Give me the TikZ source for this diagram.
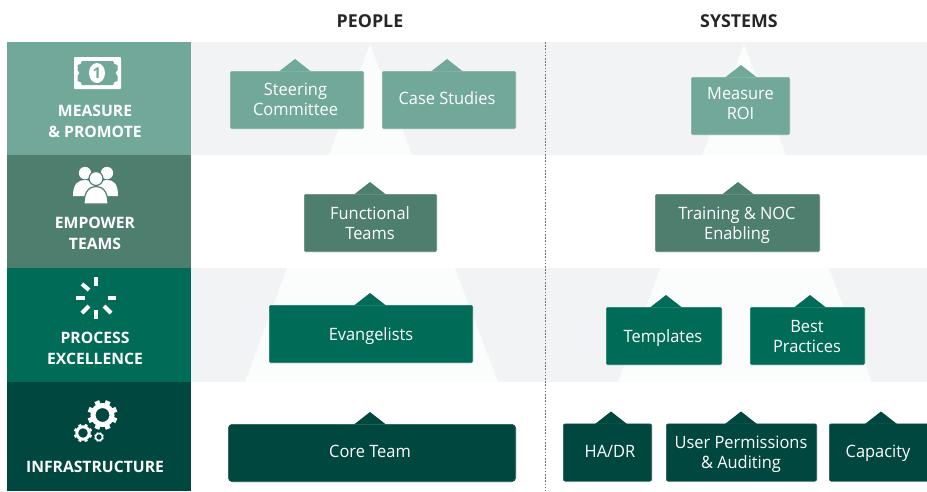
\documentclass[tikz,border=0pt]{standalone}
\usepackage{fontspec}
\setmainfont{Open Sans}
\newfontfamily\cardfont[FakeStretch=0.965]{Open Sans}
\usetikzlibrary{calc}
\definecolor{cA}{HTML}{72A899}
\definecolor{cB}{HTML}{4E7F6E}
\definecolor{cC}{HTML}{006B56}
\definecolor{cD}{HTML}{00473F}
\definecolor{band}{HTML}{F2F3F5}
\definecolor{pyr}{HTML}{FBFCFC}
\def\cardround{2pt}
\tikzset{
  bandrect/.style={fill=band,draw=none},
  catfill/.style={fill=#1,draw=none},
  cardbox/.style={fill=#1,draw=#1!88!white,line width=.6pt,rounded corners=\cardround,inner sep=0pt},
  cardtab/.style={fill=#1,draw=none},
  cardtext/.style={text=white,align=center,inner sep=0pt,font=\cardfont\fontsize{17}{20}\selectfont},
  catlabel/.style={text=white,align=center,inner sep=0pt,font=\bfseries\fontsize{15.7}{21}\selectfont},
  heading/.style={text=black!85,inner sep=0pt,font=\bfseries\fontsize{17.8}{20}\selectfont},
  tick/.style={white,line width=4pt},
}
% name, x1, y1, x2, y2, tab x, colour, text, text centre
\newcommand{\cardnode}[9]{
  \fill[cardtab=#7] (#6-16,#3+.5) -- (#6,#3-12) -- (#6+16,#3+.5) -- cycle;
  \node[cardbox=#7,minimum width=#4pt-#2pt-.6pt,minimum height=#5pt-#3pt-.6pt,anchor=north west] (#1) at (#2,#3) {};
  \node[cardtext] (#1t) at (#9) {#8};
}
% centre x, centre y, ring radius, ring width, teeth count, tooth length, tooth width
\newcommand{\gearicon}[7]{
  \draw[white,line width=#4pt] (#1,#2) circle (#3pt);
  \foreach \a in {1,...,#5}{
    \draw[white,line width=#7pt] ({#1+#3*cos(\a*360/#5+22.5)},{#2+#3*sin(\a*360/#5+22.5)}) -- ({#1+(#3+#6)*cos(\a*360/#5+22.5)},{#2+(#3+#6)*sin(\a*360/#5+22.5)});
  }
}
\begin{document}
\begin{tikzpicture}[x=1pt,y=-1pt]
\useasboundingbox (0,0) rectangle (927,491);
\fill[white] (0,0) rectangle (927,491);
% bands
\fill[bandrect] (191,42) rectangle (927,155);
\fill[bandrect] (191,268) rectangle (927,382);
% pyramids
\fill[pyr] (370,44) -- (245,382) -- (498,382) -- cycle;
\fill[pyr] (744,44) -- (618,382) -- (872,382) -- cycle;
\fill[white] (191,155) rectangle (927,268);
% divider
\draw[black!55,line width=.6pt,dash pattern=on 1.6pt off 1.6pt] (545,42) -- (545,491);
% headings
\node[heading] (hp) at (370,21) {PEOPLE};
\node[heading] (hs) at (739,21) {SYSTEMS};
% category blocks
\fill[catfill=cA] (7,42) rectangle (191,155);
\fill[catfill=cB] (7,155) rectangle (191,268);
\fill[catfill=cC] (7,268) rectangle (191,382);
\fill[catfill=cD] (7,382) rectangle (191,491);
\node[catlabel] (l1) at (95,121.5) {MEASURE\\\& PROMOTE};
\node[catlabel] (l2) at (95,233.5) {EMPOWER\\TEAMS};
\node[catlabel] (l3) at (95,348.5) {PROCESS\\EXCELLENCE};
\node[catlabel] (l4) at (95,467) {INFRASTRUCTURE};
% bill icon
\fill[white,rounded corners=.8pt] (74,57) rectangle (121,89);
\fill[cA] (82,61) -- (113,61) .. controls (113,63.5) and (115,65) .. (117.5,65) -- (117.5,70) -- (115.5,73) -- (117.5,76) -- (117.5,81) .. controls (115,81) and (113,82.5) .. (113,85) -- (82,85) .. controls (82,82.5) and (80,81) .. (77.5,81) -- (77.5,76) -- (79.5,73) -- (77.5,70) -- (77.5,65) .. controls (80,65) and (82,63.5) .. (82,61) -- cycle;
\fill[white] (97,73) ellipse (8 and 10);
\node[text=cA,inner sep=0pt,font=\bfseries\fontsize{15}{15}\selectfont] (one) at (97,73) {1};
% people icon
\fill[white] (85,173) circle (6.2);
\fill[white] (107,173) circle (6.2);
\fill[white] (73,196) .. controls (73,184) and (78,180) .. (85,180) .. controls (92,180) and (97,184) .. (97,196) -- cycle;
\fill[white] (95,196) .. controls (95,184) and (100,180) .. (107,180) .. controls (114,180) and (118,184) .. (118,196) -- cycle;
\fill[white,draw=cB,line width=1.2pt] (96,178.5) circle (7);
\fill[white,draw=cB,line width=1.2pt] (84,204) .. controls (84,192) and (89,186.5) .. (96,186.5) .. controls (103,186.5) and (108,192) .. (108,204) -- cycle;
% burst icon
\draw[tick] (96,277) -- (96,286);
\draw[tick] (96,310) -- (96,319);
\draw[tick] (76,298) -- (85,298);
\draw[tick] (108,298) -- (116,298);
\draw[tick] (82,284) -- (89,290);
\draw[tick] (82,313) -- (89,306);
\draw[tick] (104,306) -- (111,313);
% gear icons
\gearicon{102.5}{415}{9.5}{5}{8}{5.5}{5}
\gearicon{83}{433}{6.2}{3}{8}{3}{3}
\gearicon{99}{437}{3.6}{1.6}{8}{1.2}{1.4}
% people column
\cardnode{n1}{230}{71}{364}{129}{295}{cA}{Steering\\Committee}{295.5,99}
\cardnode{n2}{382}{71}{516}{129}{447}{cA}{Case Studies}{447,98}
\cardnode{n3}{304}{194}{437}{252}{370}{cB}{Functional\\Teams}{370,223.5}
\cardnode{n4}{269}{305}{473}{363}{370}{cC}{Evangelists}{371,336}
\def\cardround{4pt}
\cardnode{n5}{228}{424}{516}{482}{370}{cD}{Core Team}{370,451}
\def\cardround{2pt}
% systems column
\cardnode{n6}{691}{77}{790}{135}{741}{cA}{Measure\\ROI}{740.5,104}
\cardnode{n7}{655}{194}{820}{252}{738}{cB}{Training \& NOC\\Enabling}{737,225}
\cardnode{n8}{606}{307}{722}{365}{666}{cC}{Templates}{663,338}
\cardnode{n9}{750}{307}{865}{365}{810}{cC}{Best\\Practices}{807,337}
\cardnode{n10}{563}{423.5}{652}{481.5}{611}{cD}{HA/DR}{610,451}
\cardnode{n11}{666}{423.5}{817}{481.5}{741}{cD}{User Permissions\\\& Auditing}{741,454}
\cardnode{n12}{829}{423.5}{935}{481.5}{881}{cD}{Capacity}{878,453}
\end{tikzpicture}
\end{document}
